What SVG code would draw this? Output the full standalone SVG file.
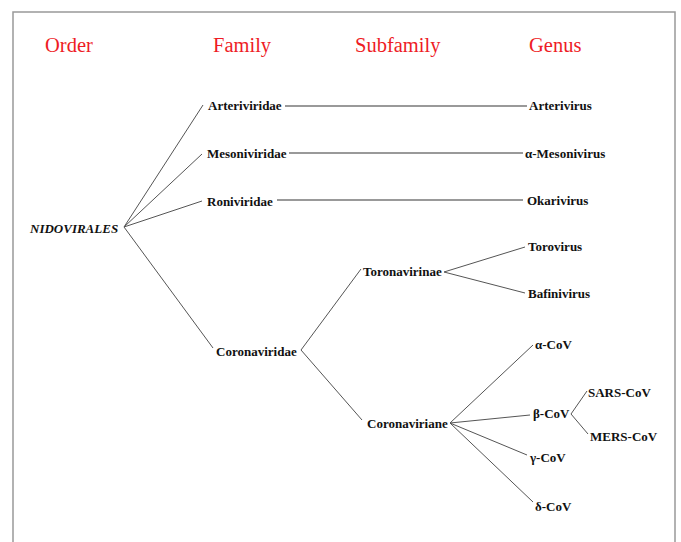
<svg xmlns="http://www.w3.org/2000/svg" width="681" height="542" viewBox="0 0 681 542">
<style>
.hdr{font-family:"Liberation Serif","Times New Roman",serif;font-size:20.5px;fill:#ee1c25}
.lbl{font-family:"Liberation Serif","Times New Roman",serif;font-size:13px;font-weight:bold;fill:#111}
.it{font-style:italic}
.c line{stroke:#555;stroke-width:1}
.c line.h{stroke:#777;stroke-width:1.3}
</style>
<rect x="0" y="0" width="681" height="542" fill="#fff"/>
<rect x="13" y="12" width="662" height="545" fill="none" stroke="#999" stroke-width="1.5"/>
<g id="headers">
<text class="hdr" x="45" y="52">Order</text>
<text class="hdr" x="213" y="52">Family</text>
<text class="hdr" x="355" y="52">Subfamily</text>
<text class="hdr" x="529" y="52">Genus</text>
</g>
<g class="c" id="connectors">
<line x1="124" y1="227" x2="203" y2="105"/>
<line x1="124" y1="227" x2="202" y2="154"/>
<line x1="124" y1="227" x2="202" y2="201"/>
<line x1="124" y1="227" x2="213" y2="348"/>
<line class="h" x1="285" y1="106" x2="527" y2="106"/>
<line class="h" x1="289" y1="153" x2="523" y2="153"/>
<line class="h" x1="277" y1="200" x2="523" y2="200"/>
<line x1="301" y1="350" x2="361" y2="269"/>
<line x1="301" y1="350" x2="362" y2="420"/>
<line x1="444" y1="272" x2="525" y2="247"/>
<line x1="444" y1="272" x2="525" y2="293"/>
<line x1="450" y1="423" x2="533" y2="345"/>
<line x1="450" y1="423" x2="530" y2="415"/>
<line x1="450" y1="423" x2="527" y2="455"/>
<line x1="450" y1="423" x2="533" y2="502"/>
<line x1="571" y1="414" x2="587" y2="391"/>
<line x1="571" y1="414" x2="588" y2="434"/>
</g>
<g id="nidovirales"><text class="lbl it" x="30" y="233">NIDOVIRALES</text></g>
<g id="arteriviridae"><text class="lbl" x="208" y="110">Arteriviridae</text></g>
<g id="mesoniviridae"><text class="lbl" x="207" y="158">Mesoniviridae</text></g>
<g id="roniviridae"><text class="lbl" x="207" y="206">Roniviridae</text></g>
<g id="coronaviridae"><text class="lbl" x="216" y="356">Coronaviridae</text></g>
<g id="toronavirinae"><text class="lbl" x="363" y="276">Toronavirinae</text></g>
<g id="coronaviriane"><text class="lbl" x="367" y="428">Coronaviriane</text></g>
<g id="arterivirus"><text class="lbl" x="529" y="110">Arterivirus</text></g>
<g id="mesonivirus"><text class="lbl" x="525" y="158">α-Mesonivirus</text></g>
<g id="okarivirus"><text class="lbl" x="527" y="205">Okarivirus</text></g>
<g id="torovirus"><text class="lbl" x="528" y="251">Torovirus</text></g>
<g id="bafinivirus"><text class="lbl" x="528" y="298">Bafinivirus</text></g>
<g id="alpha-cov"><text class="lbl" x="535" y="349">α-CoV</text></g>
<g id="beta-cov"><text class="lbl" x="533" y="418">β-CoV</text></g>
<g id="gamma-cov"><text class="lbl" x="530" y="462">γ-CoV</text></g>
<g id="delta-cov"><text class="lbl" x="535" y="511">δ-CoV</text></g>
<g id="sars-cov"><text class="lbl" x="588" y="397">SARS-CoV</text></g>
<g id="mers-cov"><text class="lbl" x="590" y="441">MERS-CoV</text></g>
</svg>
